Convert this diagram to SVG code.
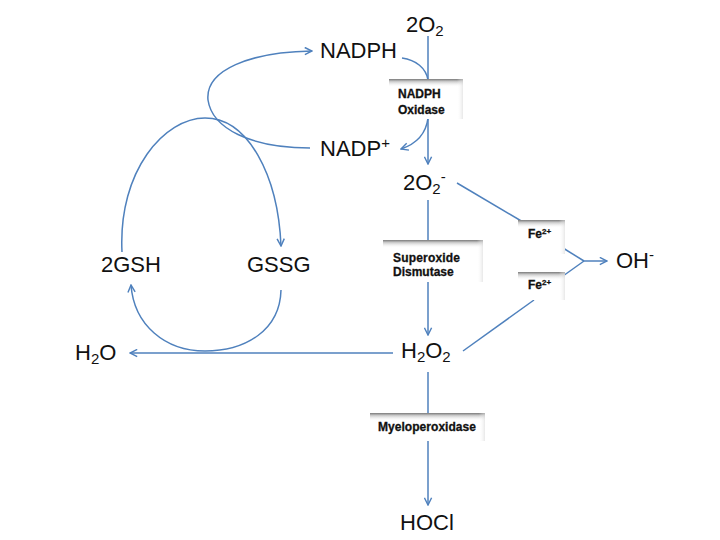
<svg xmlns="http://www.w3.org/2000/svg" width="720" height="540" viewBox="0 0 720 540">
<defs>
<style>
.lbl{font-family:"Liberation Sans",Arial,sans-serif;font-size:22px;fill:#111}
.sub{font-size:15px}
.bx{font-family:"Liberation Sans",Arial,sans-serif;font-size:12px;font-weight:bold;fill:#111;stroke:#111;stroke-width:0.3}
.c{fill:none;stroke:#4f81bd;stroke-width:1.5}
.box{fill:#ffffff}
</style>
<marker id="ah" viewBox="0 0 10 10" refX="9" refY="5" markerWidth="9" markerHeight="9" markerUnits="userSpaceOnUse" orient="auto">
<path d="M1,1 L9,5 L1,9" fill="none" stroke="#4f81bd" stroke-width="1.6"/>
</marker>
<linearGradient id="topg" x1="0" y1="0" x2="0" y2="1">
<stop offset="0" stop-color="#7a7a7a"/>
<stop offset="0.3" stop-color="#c8c8c8"/>
<stop offset="1" stop-color="#ffffff" stop-opacity="0"/>
</linearGradient>
<linearGradient id="sideg" x1="0" y1="0" x2="1" y2="0">
<stop offset="0" stop-color="#ffffff" stop-opacity="0"/>
<stop offset="1" stop-color="#d8d8d8"/>
</linearGradient>
</defs>
<rect width="720" height="540" fill="#ffffff"/>
<g id="connectors">
<line class="c" x1="428" y1="36" x2="428" y2="80"/>
<path class="c" d="M402,58 C416,60 426,68 428,80"/>
<line class="c" x1="428" y1="118" x2="428" y2="164" marker-end="url(#ah)"/>
<path class="c" d="M428,118 C426,134 416,144 401,149" marker-end="url(#ah)"/>
<path class="c" d="M310,148 C250,148 212,128 208,100 C205,70 250,52 312,51" marker-end="url(#ah)"/>
<path class="c" d="M122,252 C118,170 165,118 205,118 C248,118 278,175 281,246" marker-end="url(#ah)"/>
<path class="c" d="M281,290 C280,330 246,351 205,351 C165,351 134,325 131,285" marker-end="url(#ah)"/>
<line class="c" x1="393" y1="353" x2="130" y2="353" marker-end="url(#ah)"/>
<line class="c" x1="428" y1="200" x2="428" y2="242"/>
<line class="c" x1="428" y1="282" x2="428" y2="335" marker-end="url(#ah)"/>
<line class="c" x1="428" y1="372" x2="428" y2="414"/>
<line class="c" x1="428" y1="440" x2="428" y2="505" marker-end="url(#ah)"/>
<line class="c" x1="457" y1="183" x2="523" y2="222"/>
<line class="c" x1="563" y1="248" x2="584" y2="261"/>
<line class="c" x1="563" y1="276" x2="584" y2="261"/>
<line class="c" x1="584" y1="261" x2="607" y2="261" marker-end="url(#ah)"/>
<line class="c" x1="463" y1="351" x2="534" y2="300"/>
</g>
<g id="nadph-oxidase">
<rect class="box" x="389" y="79" width="74" height="40"/>
<rect x="389" y="79" width="74" height="8" fill="url(#topg)"/>
<rect x="457" y="79" width="6" height="40" fill="url(#sideg)" opacity="0.6"/>
<text class="bx" x="398" y="98">NADPH</text>
<text class="bx" x="398" y="114">Oxidase</text>
</g>
<g id="superoxide-dismutase">
<rect class="box" x="383" y="240" width="100" height="42"/>
<rect x="383" y="240" width="100" height="8" fill="url(#topg)"/>
<rect x="477" y="240" width="6" height="42" fill="url(#sideg)" opacity="0.6"/>
<text class="bx" x="393" y="262" textLength="67">Superoxide</text>
<text class="bx" x="393" y="276">Dismutase</text>
</g>
<g id="fe-upper">
<rect class="box" x="518" y="220" width="47" height="34"/>
<rect x="518" y="220" width="47" height="8" fill="url(#topg)"/>
<rect x="559" y="220" width="6" height="34" fill="url(#sideg)" opacity="0.6"/>
<text class="bx" x="528" y="238" font-size="11">Fe<tspan font-size="8" dy="-4">2+</tspan></text>
</g>
<g id="fe-lower">
<rect class="box" x="518" y="272" width="47" height="28"/>
<rect x="518" y="272" width="47" height="8" fill="url(#topg)"/>
<rect x="559" y="272" width="6" height="28" fill="url(#sideg)" opacity="0.6"/>
<text class="bx" x="528" y="289" font-size="11">Fe<tspan font-size="8" dy="-4">2+</tspan></text>
</g>
<g id="myeloperoxidase">
<rect class="box" x="370" y="413" width="115" height="28"/>
<rect x="370" y="413" width="115" height="8" fill="url(#topg)"/>
<rect x="479" y="413" width="6" height="28" fill="url(#sideg)" opacity="0.6"/>
<text class="bx" x="378" y="431" textLength="98">Myeloperoxidase</text>
</g>
<g id="o2"><text class="lbl" x="406" y="32">2O<tspan class="sub" dy="4">2</tspan></text></g>
<g id="nadph"><text class="lbl" x="320" y="58">NADPH</text></g>
<g id="nadp"><text class="lbl" x="320" y="156">NADP<tspan class="sub" dy="-8">+</tspan></text></g>
<g id="superoxide"><text class="lbl" x="403" y="190">2O<tspan class="sub" dy="4">2</tspan><tspan class="sub" dy="-12">-</tspan></text></g>
<g id="gsh"><text class="lbl" x="101" y="272">2GSH</text></g>
<g id="gssg"><text class="lbl" x="247" y="272">GSSG</text></g>
<g id="oh"><text class="lbl" x="616" y="268">OH<tspan class="sub" dy="-8">-</tspan></text></g>
<g id="h2o"><text class="lbl" x="75" y="360">H<tspan class="sub" dy="4">2</tspan><tspan dy="-4">O</tspan></text></g>
<g id="h2o2"><text class="lbl" x="401" y="358">H<tspan class="sub" dy="4">2</tspan><tspan dy="-4">O</tspan><tspan class="sub" dy="4">2</tspan></text></g>
<g id="hocl"><text class="lbl" x="400" y="530">HOCl</text></g>
</svg>
